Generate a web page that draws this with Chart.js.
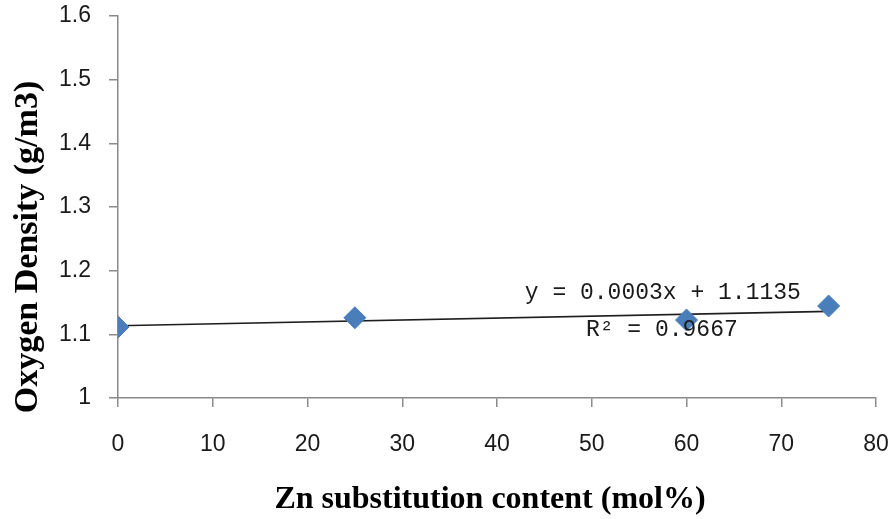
<html>
<head>
<script src="https://cdn.jsdelivr.net/npm/chart.js"></script>
<title>Oxygen Density vs Zn content</title>
<style>
  body { margin: 0; background: #fff; }
</style>
</head>
<body>
<canvas id="chart-1" width="893" height="519"></canvas>
<script>
  // Zn substitution content (mol%) and measured oxygen density (g/m3)
  const znContent = [0, 25, 60, 75];
  const oxygenDensity = [1.1115, 1.126, 1.1225, 1.1445];

  // linear trend line, as printed next to it
  const fitSlope = 0.0003;
  const fitIntercept = 1.1135;
  const fitLabel = 'y = 0.0003x + 1.1135';
  const r2Label = 'R\u00b2 = 0.9667';

  const xTicks = [0, 10, 20, 30, 40, 50, 60, 70, 80];
  const yTicks = [1, 1.1, 1.2, 1.3, 1.4, 1.5, 1.6];

  const xTitle = 'Zn substitution content (mol%)';
  const yTitle = 'Oxygen Density (g/m3)';

  const axisColor = '#8a8a8a';
  const tickFont = { family: '"Liberation Sans", Arial, sans-serif', size: 23 };

  const fitPoints = [znContent[0], znContent[znContent.length - 1]].map(x => ({
    x: x,
    y: fitIntercept + fitSlope * x
  }));

  // equation text and axis titles
  const textPlugin = {
    id: 'chartText',
    afterDatasetsDraw(chart) {
      const ctx = chart.ctx;
      const xs = chart.scales.x, ys = chart.scales.y;
      ctx.save();
      ctx.fillStyle = '#1a1a1a';
      ctx.textAlign = 'center';
      ctx.textBaseline = 'middle';
      ctx.font = '23px "Liberation Mono", "DejaVu Sans Mono", monospace';
      ctx.fillText(fitLabel, xs.getPixelForValue(57.5), ys.getPixelForValue(1.165));
      ctx.fillText(r2Label, xs.getPixelForValue(57.4), ys.getPixelForValue(1.107));

      ctx.fillStyle = '#000';
      ctx.font = 'bold 32px "Liberation Serif", "Times New Roman", serif';
      ctx.fillText(xTitle, 490, 500);
      ctx.font = 'bold 34px "Liberation Serif", "Times New Roman", serif';
      ctx.translate(28, 247);
      ctx.rotate(-Math.PI / 2);
      ctx.fillText(yTitle, 0, 0);
      ctx.restore();
    }
  };

  const config = {
    type: 'scatter',
    data: {
      datasets: [
        {
          label: 'Oxygen density',
          data: znContent.map((x, i) => ({ x: x, y: oxygenDensity[i] })),
          pointStyle: 'rectRot',
          pointRadius: 11,
          pointHoverRadius: 11,
          backgroundColor: '#4a7ebb',
          borderColor: '#4a7ebb',
          borderWidth: 1
        },
        {
          label: 'Linear fit',
          type: 'line',
          data: fitPoints,
          showLine: true,
          pointRadius: 0,
          borderColor: '#1e1e1e',
          borderWidth: 1.6,
          fill: false
        }
      ]
    },
    options: {
      responsive: false,
      animation: false,
      layout: { padding: { top: 16, right: 17, left: 0, bottom: 0 } },
      plugins: {
        legend: { display: false },
        tooltip: { enabled: false }
      },
      scales: {
        x: {
          type: 'linear',
          min: xTicks[0],
          max: xTicks[xTicks.length - 1],
          afterBuildTicks: s => { s.ticks = xTicks.map(v => ({ value: v })); },
          afterFit: s => { s.height = 121; s.paddingLeft = 0; s.paddingRight = 0; },
          ticks: {
            font: tickFont,
            color: '#1a1a1a',
            padding: 24,
            maxRotation: 0,
            autoSkip: false,
            callback: v => String(v)
          },
          grid: { drawOnChartArea: false, drawTicks: true, tickLength: 9, color: axisColor, lineWidth: 1.5 },
          border: { color: axisColor, width: 1.5 }
        },
        y: {
          type: 'linear',
          min: yTicks[0],
          max: yTicks[yTicks.length - 1],
          afterBuildTicks: s => { s.ticks = yTicks.map(v => ({ value: v })); },
          afterFit: s => { s.width = 118; s.paddingTop = 0; s.paddingBottom = 0; },
          ticks: {
            font: tickFont,
            color: '#1a1a1a',
            padding: 18,
            autoSkip: false,
            callback: v => String(v)
          },
          grid: { drawOnChartArea: false, drawTicks: true, tickLength: 9, color: axisColor, lineWidth: 1.5 },
          border: { color: axisColor, width: 1.5 }
        }
      }
    },
    plugins: [textPlugin]
  };

  const chart = new Chart(document.getElementById('chart-1'), config);
</script>
</body>
</html>
